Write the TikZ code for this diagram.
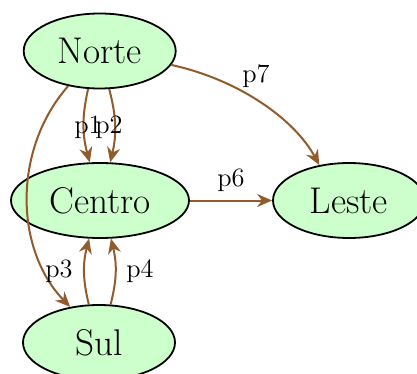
\documentclass[tikz,border=0pt]{standalone}
\usetikzlibrary{shapes.geometric,arrows.meta}
\definecolor{edgebrown}{RGB}{145,92,44}
\definecolor{nodegreen}{RGB}{204,255,204}
\tikzset{
  place/.style={ellipse, draw=black, line width=0.9pt, fill=nodegreen,
    minimum width=76pt, minimum height=37.5pt, inner sep=1pt,
    font=\fontsize{18.6}{22}\selectfont},
  conn/.style={draw=edgebrown, line width=1pt,
    -{Stealth[length=7.5pt,width=6.5pt]}},
  lbl/.style={inner sep=0pt, font=\fontsize{13.2}{15.8}\selectfont}
}
\begin{document}
\begin{tikzpicture}[x=0.5pt,y=-0.5pt]
\useasboundingbox (0,0) rectangle (417,374);
\clip (0,0) rectangle (417,374);
\node[place] (N) at (99.7,51) {Norte};
\node[place, minimum width=89pt] (C) at (100,200.5) {Centro};
\node[place] (L) at (349,200.5) {Leste};
\node[place] (S) at (99,342.5) {Sul};

\draw[conn] (N.253) to[bend right=14] (C.105);
\draw[conn] (N.284) to[bend left=14] (C.75);
\draw[conn] (N.228) .. controls (12,150) and (15,250) .. (S.129);
\draw[conn] (S.105) to[bend left=14] (C.254);
\draw[conn] (S.73) to[bend right=14] (C.286);
\draw[conn] (C.east) -- (L.west);
\draw[conn] (N.349) .. controls (240,80) and (295,120) .. (L.130);

\node[lbl] (l1) at (88,127) {p1};
\node[lbl] (l2) at (109,127) {p2};
\node[lbl] (l3) at (59,271) {p3};
\node[lbl] (l4) at (140,271) {p4};
\node[lbl] (l6) at (231,180) {p6};
\node[lbl] (l7) at (256,76) {p7};
\end{tikzpicture}
\end{document}
